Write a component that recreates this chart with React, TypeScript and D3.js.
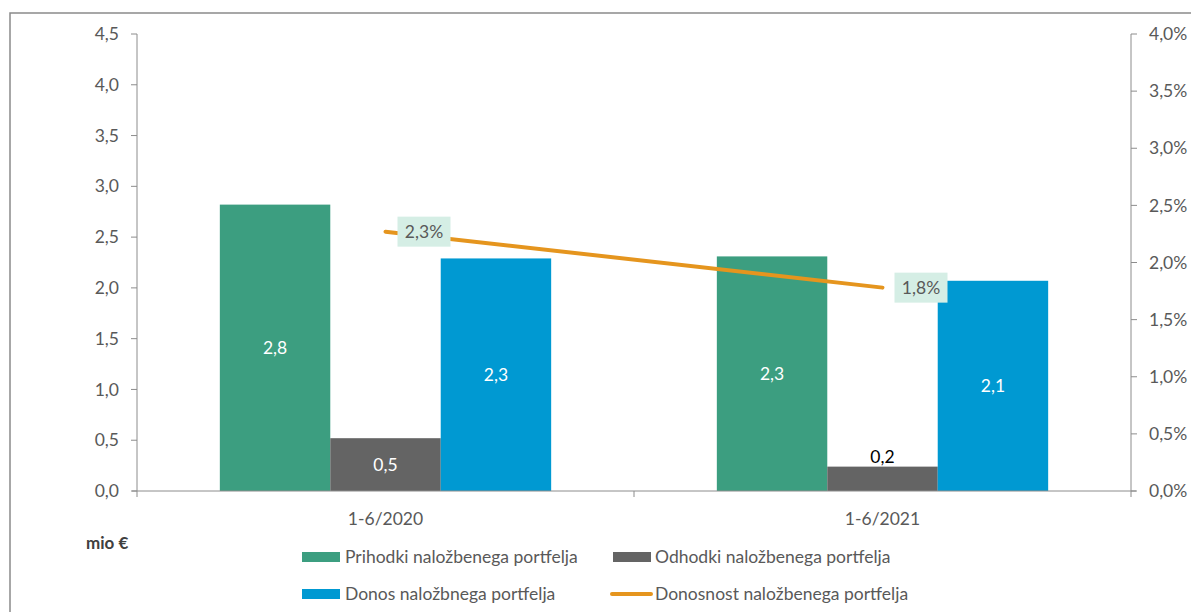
import React from "react";
import * as d3 from "d3";

const categories = ["1-6/2020", "1-6/2021"];
const seriesNames = [
  "Prihodki naložbenega portfelja",
  "Odhodki naložbenega portfelja",
  "Donos naložbnega portfelja",
];
const prihodki = [2.82, 2.31];
const odhodki = [0.52, 0.24];
const donos = [2.29, 2.07];
const donosnost = [2.27, 1.78];
const lineName = "Donosnost naložbenega portfelja";
const leftTicks = [0, 0.5, 1, 1.5, 2, 2.5, 3, 3.5, 4, 4.5];
const rightTicks = [0, 0.5, 1, 1.5, 2, 2.5, 3, 3.5, 4];

const colors = ["#3c9e80", "#646464", "#0099d2"];
const lineColor = "#e5951e";
const font = "Lato, 'Open Sans', sans-serif";
const fs = 17.5;
const fmt = (v: number, d = 1) => v.toFixed(d).replace(".", ",");

export default function App() {
  const width = 1191;
  const height = 612;
  const left = 137;
  const right = 1131;
  const top = 34;
  const bottom = 491;

  const x = d3.scaleBand<string>().domain(categories).range([left, right]);
  const xs = d3
    .scaleBand<number>()
    .domain([0, 1, 2])
    .range([0, x.bandwidth()])
    .paddingOuter(0.75)
    .paddingInner(0);
  const y = d3.scaleLinear().domain([0, 4.5]).range([bottom, top]);
  const y2 = d3.scaleLinear().domain([0, 4]).range([bottom, top]);

  const series = [prihodki, odhodki, donos];
  const line = d3
    .line<number>()
    .x((_, i) => (x(categories[i]) as number) + x.bandwidth() / 2)
    .y((d) => y2(d));

  const axisColor = "#8c8c8c";
  const textColor = "#595959";

  return (
    <div style={{ position: "absolute", left: 0, top: 0 }}>
      <svg width={width} height={height} style={{ display: "block", fontFamily: font }}>
        <rect x={0} y={0} width={width} height={height} fill="#fff" />
        {/* outer frame */}
        <rect x={10} y={13} width={width + 20} height={height + 20} fill="none" stroke="#8a8a8a" strokeWidth={1.5} />

        {/* bars */}
        {series.map((vals, s) =>
          vals.map((v, i) => {
            const bx = (x(categories[i]) as number) + (xs(s) as number);
            return (
              <rect
                key={`b${s}-${i}`}
                x={bx}
                y={y(v)}
                width={xs.bandwidth()}
                height={bottom - y(v)}
                fill={colors[s]}
              />
            );
          })
        )}

        {/* bar labels */}
        {series.map((vals, s) =>
          vals.map((v, i) => {
            const cx = (x(categories[i]) as number) + (xs(s) as number) + xs.bandwidth() / 2;
            const h = bottom - y(v);
            const inside = h > 30;
            return (
              <text
                key={`l${s}-${i}`}
                x={cx}
                y={inside ? (y(v) + bottom) / 2 : y(v) - 4}
                dy={inside ? "0.35em" : 0}
                textAnchor="middle"
                fontSize={fs}
                fill={inside ? "#fff" : "#000"}
              >
                {fmt(v)}
              </text>
            );
          })
        )}

        {/* axes */}
        <line x1={left} x2={left} y1={top} y2={bottom} stroke={axisColor} />
        <line x1={right} x2={right} y1={top} y2={bottom} stroke={axisColor} />
        <line x1={left - 5} x2={right + 5} y1={bottom} y2={bottom} stroke={axisColor} />
        {categories.map((c, i) => (
          <line
            key={`xt${i}`}
            x1={(x(c) as number) + x.bandwidth()}
            x2={(x(c) as number) + x.bandwidth()}
            y1={bottom}
            y2={bottom + 6}
            stroke={axisColor}
          />
        ))}
        <line x1={left} x2={left} y1={bottom} y2={bottom + 6} stroke={axisColor} />
        {leftTicks.map((t) => (
          <g key={`lt${t}`}>
            <line x1={left - 6} x2={left} y1={y(t)} y2={y(t)} stroke={axisColor} />
            <text x={left - 18} y={y(t)} dy="0.35em" textAnchor="end" fontSize={fs} fill={textColor}>
              {fmt(t)}
            </text>
          </g>
        ))}
        {rightTicks.map((t) => (
          <g key={`rt${t}`}>
            <line x1={right} x2={right + 6} y1={y2(t)} y2={y2(t)} stroke={axisColor} />
            <text x={right + 18} y={y2(t)} dy="0.35em" textAnchor="start" fontSize={fs} fill={textColor}>
              {fmt(t)}%
            </text>
          </g>
        ))}
        {categories.map((c) => (
          <text
            key={`c${c}`}
            x={(x(c) as number) + x.bandwidth() / 2}
            y={519}
            dy="0.35em"
            textAnchor="middle"
            fontSize={fs}
            fill={textColor}
          >
            {c}
          </text>
        ))}

        {/* line */}
        <path d={line(donosnost) || ""} fill="none" stroke={lineColor} strokeWidth={4} strokeLinecap="round" />
        {donosnost.map((v, i) => {
          const px = (x(categories[i]) as number) + x.bandwidth() / 2;
          return (
            <g key={`dl${i}`}>
              <rect x={px + 12} y={y2(v) - 15} width={53} height={30} fill="#d5eee5" />
              <text x={px + 38.5} y={y2(v)} dy="0.35em" textAnchor="middle" fontSize={fs} fill={textColor}>
                {fmt(v)}%
              </text>
            </g>
          );
        })}

        <text x={86} y={543} dy="0.35em" fontSize={17} fontWeight="bold" fill="#404040">
          mio €
        </text>

        {/* legend */}
        <rect x={302} y={552} width={38} height={10} fill={colors[0]} />
        <text x={345} y={557} dy="0.35em" fontSize={fs} fill={textColor}>{seriesNames[0]}</text>
        <rect x={613} y={552} width={38} height={10} fill={colors[1]} />
        <text x={655} y={557} dy="0.35em" fontSize={fs} fill={textColor}>{seriesNames[1]}</text>
        <rect x={302} y={589} width={38} height={10} fill={colors[2]} />
        <text x={345} y={594} dy="0.35em" fontSize={fs} fill={textColor}>{seriesNames[2]}</text>
        <line x1={612} x2={651} y1={594} y2={594} stroke={lineColor} strokeWidth={4} strokeLinecap="round" />
        <text x={655} y={594} dy="0.35em" fontSize={fs} fill={textColor}>{lineName}</text>
      </svg>
    </div>
  );
}
